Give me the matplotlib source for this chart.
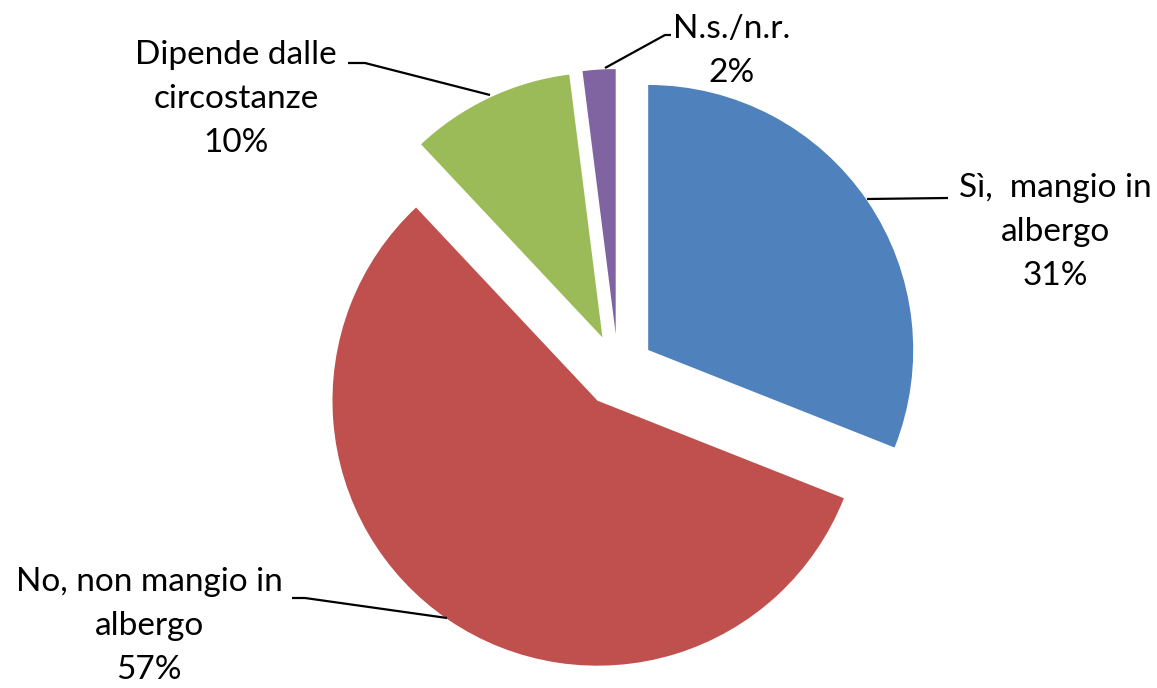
import matplotlib
matplotlib.use('Agg')
import matplotlib.pyplot as plt

# dati
labels = ['Sì,  mangio in\nalbergo\n31%', 'No, non mangio in\nalbergo\n57%',
          'Dipende dalle\ncircostanze\n10%', 'N.s./n.r.\n2%']
values = [31, 57, 10, 2]
colors = ['#4F81BD', '#C0504D', '#9BBB59', '#8064A2']

W, H = 1157, 688
fig = plt.figure(figsize=(W / 100, H / 100), dpi=100)
ax = fig.add_axes([0, 0, 1, 1])

radius = 265
center = (618, H - 370.5)
# in matplotlib l'explode e' in unita' dati (qui pixel)
ax.pie(values, colors=colors, startangle=90, counterclock=False,
       radius=radius, center=center, explode=[36.5] * 4,
       wedgeprops={'linewidth': 0}, frame=True)
ax.set_xlim(0, W)
ax.set_ylim(0, H)
ax.set_aspect('equal')
ax.axis('off')

# posizione etichette (pixel, y verso il basso) e linee guida
text_pos = [(1055, 232), (149, 626), (236, 99), (732, 51)]
leaders = [
    [(867, 199), (948, 198)],
    [(447, 618), (305, 598), (292, 598)],
    [(490, 95), (365, 63), (348, 63)],
    [(605, 68), (665, 35), (671, 35)],
]

for lab, (tx, ty), pts in zip(labels, text_pos, leaders):
    ax.text(tx, H - ty, lab, ha='center', va='center', fontsize=24,
            family='Lato', linespacing=1.6, color='black')
    xs = [p[0] for p in pts]
    ys = [H - p[1] for p in pts]
    ax.plot(xs, ys, color='black', linewidth=1.6, solid_capstyle='butt')

fig.savefig('out.png', dpi=100)
